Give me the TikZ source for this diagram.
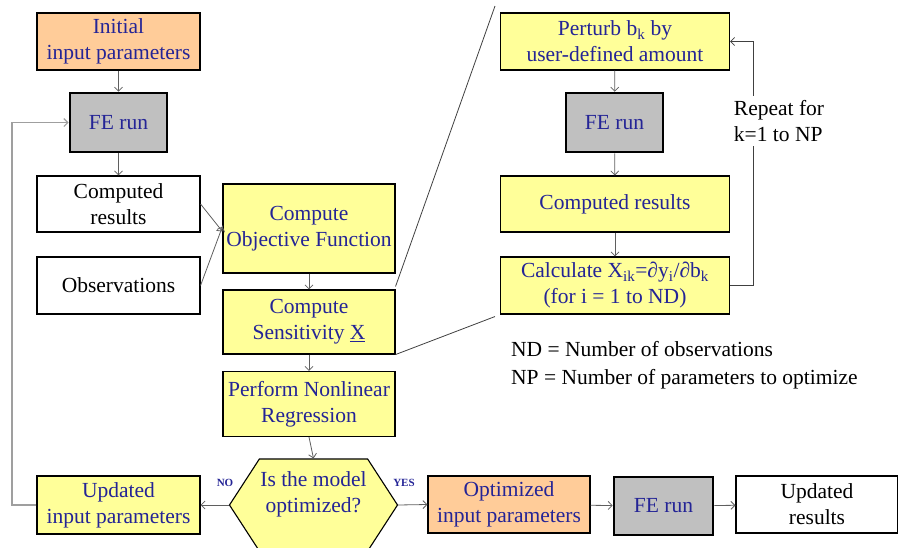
\documentclass[tikz,border=0pt]{standalone}
\usepackage{fontspec}
\setmainfont{Liberation Serif}
\usetikzlibrary{arrows.meta, shapes.symbols}
\definecolor{FlowYellow}{RGB}{255,255,153}
\definecolor{FlowOrange}{RGB}{255,204,153}
\definecolor{FlowGray}{RGB}{192,192,192}
\definecolor{FlowNavy}{RGB}{36,36,150}
\definecolor{ArrGray}{RGB}{95,95,95}

\begin{document}
\begin{tikzpicture}[x=1pt, y=-1pt,
          bx/.style={rectangle, draw=black, line width=1.1pt, align=center,
                     inner sep=1pt, font=\fontsize{21.5}{26}\selectfont, text=FlowNavy},
          ylw/.style={bx, fill=FlowYellow},
          org/.style={bx, fill=FlowOrange},
          wht/.style={bx, fill=white, text=black},
          fe/.style={bx, fill=FlowGray, line width=2.6pt,
                     minimum width=97pt, minimum height=59pt},
          arr/.style={-{Straight Barb[length=4pt, width=8pt]}, draw=ArrGray, line width=0.8pt},
          lbl/.style={font=\fontsize{11}{13}\selectfont\bfseries, text=FlowNavy},
          note/.style={font=\fontsize{21.5}{26}\selectfont, align=left, inner sep=0pt}
        ]
        \useasboundingbox (0,0) rectangle (898,547);

        % main loop
        \node[org, minimum width=163pt, minimum height=57pt] (init) at (118.5, 41.5)
              {Initial\\input parameters};
        \node[fe]  (fe1)  at (118.5, 122.5) {FE run};
        \node[wht, minimum width=163pt, minimum height=56pt] (comp1) at (118.5, 204)
              {Computed\\results};
        \node[wht, minimum width=163pt, minimum height=57pt] (obs)   at (118.5, 285.5)
              {Observations};
        \node[ylw, minimum width=172pt, minimum height=89pt] (objf)  at (309, 228.5)
              {Compute\\Objective Function};
        \node[ylw, minimum width=172pt, minimum height=64pt] (sens)  at (309, 322)
              {Compute\\Sensitivity \underline{X}};
        \node[ylw, minimum width=172pt, minimum height=65pt] (regr)  at (309, 404)
              {Perform Nonlinear\\Regression};
        \node[ylw, shape=signal, signal to=west and east, signal pointer angle=114,
              minimum width=163pt, minimum height=92pt, text depth=26pt]
              (optq) at (313.5, 505) {Is the model\\optimized?};
        \node[ylw, minimum width=163pt, minimum height=58pt] (upd)   at (118.5, 505)
              {Updated\\input parameters};
        \node[org, minimum width=162pt, minimum height=57pt] (opt)   at (509, 504.5)
              {Optimized\\input parameters};
        \node[fe, minimum width=99pt, minimum height=58pt]   (fe3)   at (663.5, 506) {FE run};
        \node[wht, minimum width=162pt, minimum height=57pt] (updres) at (817, 504.5)
              {Updated\\results};

        % sensitivity detail
        \node[ylw, minimum width=229pt, minimum height=57pt] (pert)  at (615, 41.5)
              {Perturb b\textsubscript{k} by\\user-defined amount};
        \node[fe]  (fe2)  at (614.5, 122.5) {FE run};
        \node[ylw, minimum width=229pt, minimum height=56pt] (comp2) at (615, 204)
              {Computed results};
        \node[ylw, minimum width=229pt, minimum height=57pt] (calc)  at (615, 285.5)
              {Calculate X\textsubscript{ik}=∂y\textsubscript{i}/∂b\textsubscript{k}\\(for i = 1 to ND)};

        \draw[arr] (init)  -- (fe1);
        \draw[arr] (fe1)   -- (comp1);
        \draw[arr] (comp1.east) -- ([yshift=-3pt]objf.west);
        \draw[arr] (obs.east)   -- ([yshift=2pt]objf.west);
        \draw[arr] (objf)  -- (sens);
        \draw[arr] (sens)  -- (regr);
        \draw[arr] (regr.south) -- (optq.north);
        \draw[arr] (optq.west)  -- (upd.east);
        \draw[arr] (optq.east)  -- (opt.west);
        \draw[arr] (opt)   -- (fe3);
        \draw[arr] (fe3)   -- (updres);

        \coordinate (back) at (12, 300);
        \draw[arr, draw=ArrGray!60, line width=1.2pt] (upd.west) -| (back) |- (fe1.west);

        \draw[arr] (pert)  -- (fe2);
        \draw[arr] (fe2)   -- (comp2);
        \draw[arr] (comp2) -- (calc);

        \coordinate (rtop) at (753, 41.5);
        \draw[arr, draw=black!75] (calc.east) -| (rtop) -- (pert.east);
        \node[note, fill=white, inner ysep=4pt] (rep) at (779, 121) {Repeat for\\k=1 to NP};

        % zoom lines
        \coordinate (ztop) at (495, 6);
        \draw[black!75, line width=0.8pt] ([yshift=3pt]sens.north east) -- (ztop);
        \draw[black!75, line width=0.8pt] (sens.south east) -- ([shift={(-5pt,-2pt)}]calc.south west);

        \node[lbl] (no)  at (225, 483) {NO};
        \node[lbl] (yes) at (404, 483) {YES};

        \node[note, anchor=west] (nd) at (511, 349) {ND = Number of observations};
        \node[note, anchor=west] (np) at (511, 379) {NP = Number of parameters to optimize};
      \end{tikzpicture}
\end{document}
